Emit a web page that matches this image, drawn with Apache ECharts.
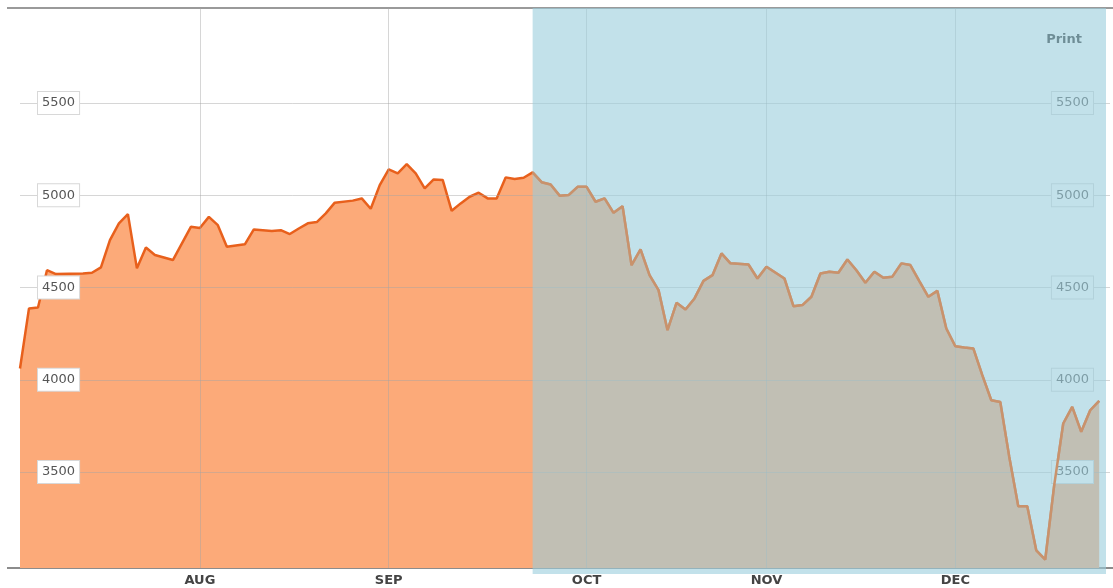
<!DOCTYPE html>
<html>
<head>
<meta charset="utf-8">
<title>Index level</title>
<script src="https://cdn.jsdelivr.net/npm/echarts@6.0.0/dist/echarts.min.js"></script>
<style>
  html, body { margin: 0; padding: 0; background: #fff; }
  #chart { width: 1113px; height: 588px; }
</style>
</head>
<body>
<div id="chart"></div>
<script>
// session number (0 = first day on the chart) and closing level
const sessions = [
  0, 1, 2, 3, 4, 7, 8, 9, 10, 11, 12, 13, 14, 15, 17, 19, 20, 21, 22, 23,
  25, 26, 28, 29, 30, 31, 32, 33, 34, 35, 37, 38, 39, 40, 41, 42, 43, 44, 45, 46,
  47, 48, 49, 50, 51, 52, 53, 54, 55, 56, 57, 58, 59, 60, 61, 62, 63, 64, 65, 66,
  67, 68, 69, 70, 71, 72, 73, 74, 75, 76, 77, 78, 79, 81, 82, 83, 85, 86, 87, 88,
  89, 90, 91, 92, 93, 94, 95, 96, 97, 98, 99, 100, 101, 102, 103, 104, 105, 106, 107, 108,
  109, 110, 111, 112, 113, 114, 115, 116, 117, 118, 119, 120
];
const closes = [
  4061, 4387, 4392, 4594, 4573, 4576, 4580, 4609, 4757, 4848, 4898, 4604, 4717, 4676, 4649, 4829, 4823, 4883, 4838, 4721,
  4734, 4815, 4806, 4811, 4790, 4820, 4848, 4855, 4902, 4960, 4971, 4983, 4927, 5055, 5140, 5119, 5169, 5119, 5037, 5086,
  5083, 4916, 4956, 4992, 5014, 4983, 4983, 5097, 5088, 5095, 5124, 5071, 5058, 4998, 5001, 5046, 5046, 4965, 4983, 4905,
  4941, 4621, 4707, 4567, 4486, 4269, 4417, 4381, 4441, 4536, 4567, 4685, 4631, 4625, 4549, 4613, 4549, 4399, 4405, 4450,
  4576, 4586, 4580, 4652, 4594, 4526, 4586, 4553, 4559, 4631, 4622, 4535, 4450, 4482, 4278, 4182, 4175, 4170, 4025, 3889,
  3880, 3582, 3315, 3315, 3076, 3026, 3430, 3763, 3853, 3718, 3835, 3886
];
const monthStarts = [20, 41, 63, 83, 104];
const monthLabels = ["AUG", "SEP", "OCT", "NOV", "DEC"];
const levelTicks = [3500, 4000, 4500, 5000, 5500];
const shadedFrom = 57; // start of the shaded (blue) period

const W = 1113, H = 588;
const GRID = { left: 20, right: 3, top: 8, bottom: 20 };
const LEVEL_MIN = 2980, LEVEL_MAX = 6015;
const SESSION_MAX = 121.2;

const chart = echarts.init(document.getElementById("chart"), null, { renderer: "canvas" });

const points = sessions.map((s, i) => [s, closes[i]]);
// the part inside the shaded period gets its line redrawn over the blue block
const shadedPoints = points.filter((p) => p[0] >= shadedFrom);

const gridLine = { show: true, lineStyle: { color: "rgba(165,165,165,0.45)", width: 1 } };

function levelAxis(side) {
  return {
    type: "value",
    position: side,
    min: LEVEL_MIN,
    max: LEVEL_MAX,
    z: 3,
    axisLine: { show: false },
    axisTick: { show: false, customValues: levelTicks },
    splitLine: side === "left" ? gridLine : { show: false },
    axisLabel: {
      customValues: levelTicks,
      inside: true,
      margin: side === "left" ? 18 : 17,
      color: "#555",
      fontFamily: "DejaVu Sans",
      fontSize: 13,
      backgroundColor: "#fff",
      borderColor: "#d8d8d8",
      borderWidth: 1,
      padding: [5, 4, 4, 4],
      formatter: (v) => String(v),
    },
  };
}

// blue block over the later part of the chart
function renderShade(params, api) {
  const cs = params.coordSys;
  const x0 = api.coord([api.value(0), LEVEL_MIN])[0];
  return {
    type: "rect",
    shape: { x: x0, y: cs.y, width: cs.x + cs.width - 4 - x0, height: cs.height + 6 },
    style: { fill: "rgba(153,205,220,0.6)" },
  };
}

chart.setOption({
  animation: false,
  backgroundColor: "#fff",
  title: {
    text: "Print",
    right: 26,
    top: 28,
    z: 1,
    textStyle: { fontFamily: "DejaVu Sans", fontSize: 13, fontWeight: "bold", color: "#2e2e2e" },
  },
  grid: Object.assign({ outerBoundsMode: "none", containLabel: false }, GRID),
  xAxis: {
    type: "value",
    min: 0,
    max: SESSION_MAX,
    z: 3,
    axisLine: { show: false },
    axisTick: { show: false, customValues: monthStarts },
    splitLine: gridLine,
    axisLabel: {
      customValues: monthStarts,
      margin: 6,
      color: "#444",
      fontFamily: "DejaVu Sans",
      fontSize: 13,
      fontWeight: "bold",
      formatter: (v) => monthLabels[monthStarts.indexOf(v)] || "",
    },
  },
  yAxis: [levelAxis("left"), levelAxis("right")],
  graphic: [
    { type: "line", z: 1, shape: { x1: 7, y1: GRID.top, x2: W, y2: GRID.top }, style: { stroke: "#9a9a9a", lineWidth: 2 } },
    { type: "line", z: 1, shape: { x1: 7, y1: H - GRID.bottom, x2: W, y2: H - GRID.bottom }, style: { stroke: "#8c8c8c", lineWidth: 2 } },
  ],
  series: [
    {
      type: "line",
      data: points,
      z: 1,
      showSymbol: false,
      lineStyle: { color: "#e8601c", width: 2.5 },
      areaStyle: { color: "#fcaa79", opacity: 1 },
    },
    {
      type: "custom",
      z: 5,
      silent: true,
      clip: false,
      renderItem: renderShade,
      data: [[shadedFrom, LEVEL_MIN]],
    },
    {
      type: "line",
      data: shadedPoints,
      z: 6,
      silent: true,
      showSymbol: false,
      lineStyle: { color: "#c9926c", width: 2.5 },
    },
  ],
});
</script>
</body>
</html>
